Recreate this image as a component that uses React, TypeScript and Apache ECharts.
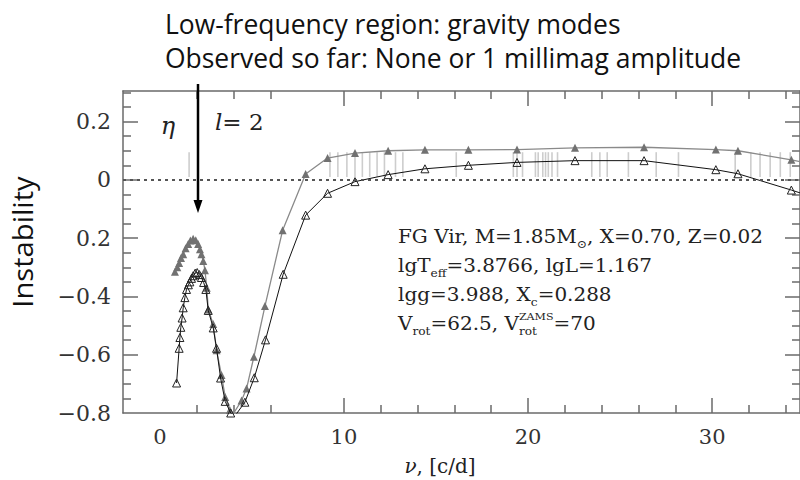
import React, { useEffect, useRef } from 'react';
import * as echarts from 'echarts';

// Upper curve (grey, filled triangles)
const grayNu = [0.82, 0.95, 1.05, 1.15, 1.27, 1.40, 1.54, 1.66, 1.81, 1.95, 2.08, 2.18, 2.26, 2.36, 2.45, 2.55, 2.63, 2.90, 3.08, 3.35, 3.55, 3.80, 3.99, 4.44, 4.71, 5.11, 5.71, 6.67, 7.92, 9.11, 10.6, 12.4, 14.4, 16.76, 19.4, 22.55, 26.3, 30.2, 31.4, 34.3, 36.5];
const grayEta = [-0.315, -0.300, -0.285, -0.268, -0.255, -0.235, -0.220, -0.208, -0.202, -0.207, -0.220, -0.238, -0.255, -0.278, -0.310, -0.370, -0.445, -0.495, -0.585, -0.670, -0.745, -0.790, -0.803, -0.757, -0.716, -0.607, -0.433, -0.173, 0.020, 0.075, 0.092, 0.100, 0.103, 0.103, 0.104, 0.110, 0.112, 0.104, 0.100, 0.069, 0.040];

// Lower curve (black, open triangles)
const blackNu = [0.91, 1.05, 1.09, 1.14, 1.21, 1.27, 1.36, 1.45, 1.55, 1.63, 1.72, 1.81, 1.92, 2.03, 2.15, 2.26, 2.38, 2.50, 2.63, 2.90, 3.08, 3.30, 3.55, 3.85, 4.08, 4.62, 5.13, 5.74, 6.70, 7.92, 9.11, 10.6, 12.4, 14.4, 16.76, 19.4, 22.55, 26.3, 30.2, 31.4, 34.3, 36.5];
const blackEta = [-0.697, -0.578, -0.541, -0.506, -0.474, -0.439, -0.404, -0.376, -0.360, -0.350, -0.338, -0.329, -0.320, -0.318, -0.325, -0.335, -0.352, -0.376, -0.448, -0.508, -0.578, -0.680, -0.760, -0.800, -0.810, -0.763, -0.679, -0.549, -0.324, -0.121, -0.046, -0.006, 0.018, 0.038, 0.050, 0.060, 0.066, 0.066, 0.035, 0.021, -0.035, -0.080];

// Observed frequencies (light grey vertical marks)
const obsNu = [1.59, 9.24, 9.67, 10.16, 10.6, 11.0, 11.4, 11.8, 12.2, 12.8, 13.2, 16.1, 19.2, 19.4, 19.7, 20.4, 20.55, 20.8, 20.95, 21.1, 21.3, 21.6, 23.46, 23.9, 24.3, 25.45, 26.96, 28.17, 31.25, 32.1, 32.6, 33.15, 33.7, 34.24];
const obsLow = 0.01;
const obsHigh = 0.095;

// Axes
const xMin = -2;
const xMax = 34.77;
const yMin = -0.8;
const yMax = 0.305;
const xLabelValues = [0, 10, 20, 30];
const xMajorTicks = [10, 20, 30];
const xMinorTicks = [2, 4, 6, 12, 14, 16, 18, 22, 24, 26, 28, 32, 34];
const yLabelValues = [-0.8, -0.6, -0.4, -0.2, 0, 0.2];
const yLabelTexts = ['\u22120.8', '\u22120.6', '\u22120.4', '0.2', '0', '0.2'];
const yMajorTicks = [-0.6, -0.4, -0.2, 0, 0.2];
const yMinorTicks = [-0.75, -0.7, -0.65, -0.55, -0.5, -0.45, -0.35, -0.3, -0.25, -0.15, -0.1, -0.05, 0.05, 0.1, 0.15, 0.25, 0.3];

const frame = { color: '#6a6a6a', width: 1.5 };
const serif = '"DejaVu Serif", "Liberation Serif", serif';
const casual = '"Open Sans", sans-serif';

function xAxisDef(position: string, major: boolean, labels: boolean) {
  return {
    type: 'value',
    min: xMin,
    max: xMax,
    position,
    axisLine: { show: !major, onZero: false, lineStyle: frame },
    axisTick: { show: true, inside: true, length: major ? 15 : 8, customValues: major ? xMajorTicks : xMinorTicks, lineStyle: frame },
    axisLabel: labels
      ? { show: true, customValues: xLabelValues, margin: 13, fontFamily: serif, fontSize: 21, color: '#333' }
      : { show: false },
    splitLine: { show: false },
  };
}

function yAxisDef(position: string, major: boolean, labels: boolean) {
  return {
    type: 'value',
    min: yMin,
    max: yMax,
    position,
    axisLine: { show: !major, onZero: false, lineStyle: frame },
    axisTick: { show: true, inside: true, length: major ? 15 : 8, customValues: major ? yMajorTicks : yMinorTicks, lineStyle: frame },
    axisLabel: labels
      ? {
          show: true,
          customValues: yLabelValues,
          margin: 12,
          fontFamily: serif,
          fontSize: 22,
          color: '#333',
          formatter: (v: number) => {
            const i = yLabelValues.findIndex((t) => Math.abs(t - v) < 1e-6);
            return i >= 0 ? yLabelTexts[i] : '';
          },
        }
      : { show: false },
    splitLine: { show: false },
  };
}

const infoSize = 18;
const subSize = 11;
const supSize = 10;
const infoScale = 1.11;
const subStyle = { fontFamily: serif, fontSize: subSize, lineHeight: 11, verticalAlign: 'bottom', fill: '#222' };

function infoLine(text: string, x: number, y: number) {
  return {
    type: 'text',
    x,
    y,
    scaleX: infoScale,
    style: { text, fontFamily: serif, fontSize: infoSize, lineHeight: 28, fill: '#222', verticalAlign: 'middle', rich: { sub: subStyle } },
  };
}

function measure(text: string, size: number) {
  const c = document.createElement('canvas').getContext('2d')!;
  c.font = `${size}px ${serif}`;
  return c.measureText(text).width;
}

export default function App() {
  const ref = useRef<HTMLDivElement>(null);
  useEffect(() => {
    const chart = echarts.init(ref.current!, null, { renderer: 'svg' });

    // layout of the last info line (stacked super/subscript)
    const infoX = 398;
    const lastY = 323;
    const partA = measure('V', infoSize) + measure('rot', subSize) + measure('=62.5, V', infoSize);
    const stackX = infoX + partA * infoScale;
    const stackW = Math.max(measure('ZAMS', supSize), measure('rot', subSize)) * infoScale;

    const option = {
      animation: false,
      grid: { left: 123, right: 0, top: 91, bottom: 67 },
      xAxis: [
        xAxisDef('bottom', false, true),
        xAxisDef('bottom', true, false),
        xAxisDef('top', false, false),
        xAxisDef('top', true, false),
      ],
      yAxis: [
        yAxisDef('left', false, true),
        yAxisDef('left', true, false),
        yAxisDef('right', false, false),
        yAxisDef('right', true, false),
      ],
      series: [
        {
          type: 'custom',
          xAxisIndex: 0,
          yAxisIndex: 0,
          z: 1,
          silent: true,
          clip: true,
          data: obsNu.map((v) => [v, obsLow, obsHigh]),
          renderItem: (params: any, api: any) => {
            const p1 = api.coord([api.value(0), api.value(1)]);
            const p2 = api.coord([api.value(0), api.value(2)]);
            return {
              type: 'line',
              shape: { x1: p1[0], y1: p1[1], x2: p2[0], y2: p2[1] },
              style: { stroke: '#cdcdcd', lineWidth: 1.6 },
            };
          },
        },
        {
          type: 'line',
          xAxisIndex: 0,
          yAxisIndex: 0,
          z: 3,
          clip: true,
          data: grayNu.map((v, i) => [v, grayEta[i]]),
          symbol: 'triangle',
          symbolSize: 8,
          showAllSymbol: true,
          lineStyle: { color: '#8a8a8a', width: 1.3 },
          itemStyle: { color: '#717171' },
          markLine: {
            silent: true,
            symbol: ['none', 'none'],
            label: { show: false },
            lineStyle: { type: [3, 4], color: '#555', width: 2 },
            data: [{ yAxis: 0 }],
          },
        },
        {
          type: 'line',
          xAxisIndex: 0,
          yAxisIndex: 0,
          z: 4,
          clip: true,
          data: blackNu.map((v, i) => [v, blackEta[i]]),
          symbol: 'triangle',
          symbolSize: 8,
          showAllSymbol: true,
          lineStyle: { color: '#111', width: 1 },
          itemStyle: { color: 'rgba(255,255,255,0)', borderColor: '#222', borderWidth: 1 },
        },
      ],
      graphic: [
        { type: 'text', x: 165, y: 23, scaleX: 0.98, style: { text: 'Low-frequency region: gravity modes', fontFamily: casual, fontSize: 27, fill: '#111', verticalAlign: 'middle' } },
        { type: 'text', x: 165, y: 57, scaleX: 0.98, style: { text: 'Observed so far: None or 1 millimag amplitude', fontFamily: casual, fontSize: 27, fill: '#111', verticalAlign: 'middle' } },
        { type: 'text', x: 22, y: 242, rotation: Math.PI / 2, scaleX: 1.08, style: { text: 'Instability', fontFamily: casual, fontSize: 27, fill: '#111', align: 'center', verticalAlign: 'middle' } },
        { type: 'line', z: 10, shape: { x1: 198, y1: 84, x2: 198, y2: 202 }, style: { stroke: '#000', lineWidth: 2.5 } },
        { type: 'polygon', z: 10, shape: { points: [[193.5, 200], [202.5, 200], [198, 213]] }, style: { fill: '#000' } },
        { type: 'text', x: 168, y: 126, style: { text: '\u03b7', fontFamily: serif, fontStyle: 'italic', fontSize: 24, fill: '#222', align: 'center', verticalAlign: 'middle' } },
        { type: 'text', x: 215, y: 122, style: { text: '{it|l}= 2', fontFamily: serif, fontSize: 23, fill: '#222', verticalAlign: 'middle', rich: { it: { fontFamily: serif, fontStyle: 'italic', fontSize: 23, fill: '#222' } } } },
        infoLine('FG Vir, M=1.85M{sub|\u2299}, X=0.70, Z=0.02', infoX, 236),
        infoLine('lgT{sub|eff}=3.8766, lgL=1.167', infoX, 265),
        infoLine('lgg=3.988, X{sub|c}=0.288', infoX, 294),
        infoLine('V{sub|rot}=62.5, V', infoX, lastY),
        { type: 'text', x: stackX, y: lastY - 7, scaleX: infoScale, style: { text: 'ZAMS', fontFamily: serif, fontSize: supSize, fill: '#222', verticalAlign: 'middle' } },
        { type: 'text', x: stackX, y: lastY + 8, scaleX: infoScale, style: { text: 'rot', fontFamily: serif, fontSize: subSize, fill: '#222', verticalAlign: 'middle' } },
        { type: 'text', x: stackX + stackW, y: lastY, scaleX: infoScale, style: { text: '=70', fontFamily: serif, fontSize: infoSize, fill: '#222', verticalAlign: 'middle' } },
        { type: 'text', x: 440, y: 466, style: { text: '{it|\u03bd}, [c/d]', fontFamily: serif, fontSize: 20, fill: '#222', align: 'center', verticalAlign: 'middle', rich: { it: { fontFamily: serif, fontStyle: 'italic', fontSize: 20, fill: '#222' } } } },
      ],
    };
    chart.setOption(option as any);
    return () => chart.dispose();
  }, []);
  return <div ref={ref} style={{ position: 'absolute', left: 0, top: 0, width: 800, height: 480 }} />;
}
